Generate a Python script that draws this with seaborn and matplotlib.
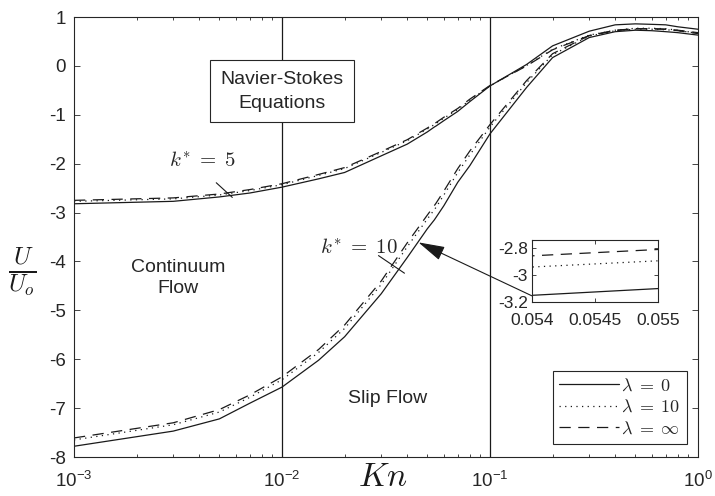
import numpy as np
import pandas as pd
import matplotlib
matplotlib.use("Agg")
import matplotlib.pyplot as plt
import seaborn as sns
from matplotlib.lines import Line2D
from matplotlib.ticker import LogLocator, NullFormatter

# Knudsen numbers at which the velocity ratio was evaluated
kn = [0.001, 0.003, 0.005, 0.007, 0.01, 0.015, 0.02, 0.03, 0.04, 0.05,
      0.054, 0.055, 0.06, 0.07, 0.08, 0.1, 0.15, 0.2, 0.3, 0.4, 0.5,
      0.6, 0.7, 0.8, 1.0]

# U/Uo for k* = 5
u_k5_lam0 = [-2.82, -2.77, -2.68, -2.60, -2.48, -2.31, -2.18, -1.84, -1.60, -1.35,
             -1.25, -1.23, -1.12, -0.93, -0.73, -0.41, 0.03, 0.41, 0.71, 0.84, 0.86,
             0.85, 0.84, 0.80, 0.75]
u_k5_lam10 = [-2.77, -2.72, -2.64, -2.55, -2.43, -2.24, -2.10, -1.77, -1.53, -1.29,
              -1.20, -1.18, -1.07, -0.89, -0.70, -0.41, 0.01, 0.34, 0.63, 0.73, 0.77,
              0.77, 0.76, 0.73, 0.67]
u_k5_laminf = [-2.75, -2.70, -2.62, -2.53, -2.41, -2.22, -2.08, -1.75, -1.51, -1.27,
               -1.18, -1.16, -1.05, -0.87, -0.68, -0.40, 0.00, 0.33, 0.62, 0.72, 0.76,
               0.76, 0.75, 0.72, 0.66]

# U/Uo for k* = 10
u_k10_lam0 = [-7.78, -7.47, -7.22, -6.90, -6.57, -6.02, -5.54, -4.66, -3.92, -3.33,
              -3.15, -3.10, -2.86, -2.38, -2.04, -1.39, -0.44, 0.17, 0.58, 0.70, 0.73,
              0.72, 0.70, 0.68, 0.63]
u_k10_lam10 = [-7.65, -7.34, -7.08, -6.78, -6.42, -5.86, -5.37, -4.47, -3.70, -3.13,
               -2.94, -2.894, -2.64, -2.18, -1.82, -1.25, -0.34, 0.23, 0.61, 0.72, 0.75,
               0.75, 0.74, 0.72, 0.67]
u_k10_laminf = [-7.61, -7.30, -7.03, -6.73, -6.36, -5.80, -5.30, -4.40, -3.62, -3.05,
                -2.857, -2.81, -2.56, -2.10, -1.74, -1.20, -0.30, 0.25, 0.62, 0.73, 0.76,
                0.76, 0.75, 0.73, 0.68]

lam_keys = ["0", "10", "inf"]
lam_labels = [r"$\lambda\;=\;0$", r"$\lambda\;=\;10$", r"$\lambda\;=\;\infty$"]
xtick_vals = [1e-3, 1e-2, 1e-1, 1e0]
xtick_labels = [r"$\mathregular{10^{-3}}$", r"$\mathregular{10^{-2}}$",
                r"$\mathregular{10^{-1}}$", r"$\mathregular{10^{0}}$"]
ytick_vals = [-8, -7, -6, -5, -4, -3, -2, -1, 0, 1]
inset_xticks = [0.054, 0.0545, 0.055]
inset_xlabels = ["0.054", "0.0545", "0.055"]
inset_yticks = [-3.2, -3.0, -2.8]
inset_ylabels = ["-3.2", "-3", "-2.8"]

series = {
    ("5", "0"): u_k5_lam0, ("5", "10"): u_k5_lam10, ("5", "inf"): u_k5_laminf,
    ("10", "0"): u_k10_lam0, ("10", "10"): u_k10_lam10, ("10", "inf"): u_k10_laminf,
}
rows = []
for (k, lam), vals in series.items():
    for x, u in zip(kn, vals):
        rows.append({"Kn": x, "U": u, "k": k, "lam": lam})
df = pd.DataFrame(rows)

sns.set_theme(style="ticks")
plt.rcParams["font.family"] = ["Liberation Sans", "DejaVu Sans"]
plt.rcParams["mathtext.fontset"] = "cm"
plt.rcParams["axes.unicode_minus"] = False

axis_col = "#262626"
lw = 0.9
dash_map = {"0": "", "10": (1, 3.5), "inf": (9, 6)}

fig = plt.figure(figsize=(7.15, 4.96), dpi=100)
ax = fig.add_axes([0.1035, 0.0786, 0.8727, 0.8871])
ax.set_xscale("log")

sns.lineplot(data=df, x="Kn", y="U", style="lam", units="k", estimator=None,
             dashes=dash_map, color="k", linewidth=lw, legend=False, ax=ax)

ax.set_xlim(1e-3, 1)
ax.set_ylim(-8, 1)
ax.axvline(0.01, color="k", lw=0.9, zorder=1)
ax.axvline(0.1, color="k", lw=0.9, zorder=1)

ax.set_xticks(xtick_vals, labels=xtick_labels)
ax.xaxis.set_minor_locator(LogLocator(base=10, subs=np.arange(2, 10)))
ax.xaxis.set_minor_formatter(NullFormatter())
ax.set_yticks(ytick_vals, labels=[str(v) for v in ytick_vals])
ax.tick_params(which="both", direction="in", top=True, right=True,
               color=axis_col, labelcolor=axis_col, width=0.6)
ax.tick_params(which="major", length=4, labelsize=13.5)
ax.tick_params(which="minor", length=2.5)
ax.tick_params(axis="x", pad=10)
ax.tick_params(axis="y", pad=6)
for s in ax.spines.values():
    s.set_color(axis_col)
    s.set_linewidth(0.8)

ax.set_xlabel(r"$Kn$", fontsize=24, color="k")
ax.xaxis.set_label_coords(0.494, -0.012)
ax.xaxis.label.set_va("top")
ax.set_ylabel(r"$\frac{U}{U_o}$", fontsize=25, rotation=0, color="k")
ax.yaxis.set_label_coords(-0.083, 0.42)
ax.yaxis.label.set_va("center")
ax.yaxis.label.set_ha("center")

# Region labels
ax.text(0.01, -0.52, "Navier-Stokes\nEquations", ha="center", va="center",
        fontsize=14, color="#262626", linespacing=1.5, zorder=5,
        bbox=dict(boxstyle="square,pad=0.55", fc="white", ec="#262626", lw=0.8))
ax.text(0.00316, -4.33, "Continuum\nFlow", ha="center", va="center",
        fontsize=14, color="#262626", linespacing=1.3)
ax.text(0.0321, -6.8, "Slip Flow", ha="center", va="center",
        fontsize=14, color="#262626")

# Curve family labels with leader lines
ax.text(0.00413, -1.94, r"$k^{*}\;=\;5$", ha="center", va="center", fontsize=15)
ax.annotate("", xy=(0.00577, -2.69), xytext=(0.00483, -2.39),
            arrowprops=dict(arrowstyle="-", color="k", lw=0.8,
                            shrinkA=0, shrinkB=0))
ax.text(0.0233, -3.71, r"$k^{*}\;=\;10$", ha="center", va="center", fontsize=15)
ax.annotate("", xy=(0.0388, -4.24), xytext=(0.0291, -3.88),
            arrowprops=dict(arrowstyle="-", color="k", lw=0.8,
                            shrinkA=0, shrinkB=0))

# Legend
handles = [Line2D([], [], color="k", lw=lw, linestyle="-"),
           Line2D([], [], color="k", lw=lw, dashes=dash_map["10"]),
           Line2D([], [], color="k", lw=lw, dashes=dash_map["inf"])]
leg = ax.legend(handles, lam_labels, loc="lower right",
                bbox_to_anchor=(0.982, 0.03), fontsize=13, frameon=True,
                fancybox=False, framealpha=1, edgecolor=axis_col,
                handlelength=3.3, handletextpad=0.15, borderpad=0.35,
                labelspacing=0.25, borderaxespad=0)
leg.get_frame().set_linewidth(0.8)

# Inset magnifying the k* = 10 curves
axins = fig.add_axes([0.744, 0.391, 0.176, 0.125])
sns.lineplot(data=df, x="Kn", y="U", style="lam", units="k", estimator=None,
             dashes=dash_map, color="k", linewidth=lw, legend=False, ax=axins)
axins.set_xlim(0.054, 0.055)
axins.set_ylim(-3.2, -2.74)
axins.set_xticks(inset_xticks, labels=inset_xlabels)
axins.set_yticks(inset_yticks, labels=inset_ylabels)
axins.set_xlabel("")
axins.set_ylabel("")
axins.tick_params(direction="in", top=True, right=True, length=3, width=0.6,
                  color=axis_col, labelcolor=axis_col, labelsize=12.5)
axins.tick_params(axis="x", pad=8)
axins.tick_params(axis="y", pad=3)
for s in axins.spines.values():
    s.set_color(axis_col)
    s.set_linewidth(0.8)

ax.annotate("", xy=(0.0453, -3.61), xycoords="data",
            xytext=(0.0, 0.1), textcoords=axins.transAxes,
            arrowprops=dict(arrowstyle="-|>,head_length=1.1,head_width=0.3",
                            color="k", lw=0.8, mutation_scale=15,
                            shrinkA=0, shrinkB=0))

fig.savefig("out.png", dpi=100)
